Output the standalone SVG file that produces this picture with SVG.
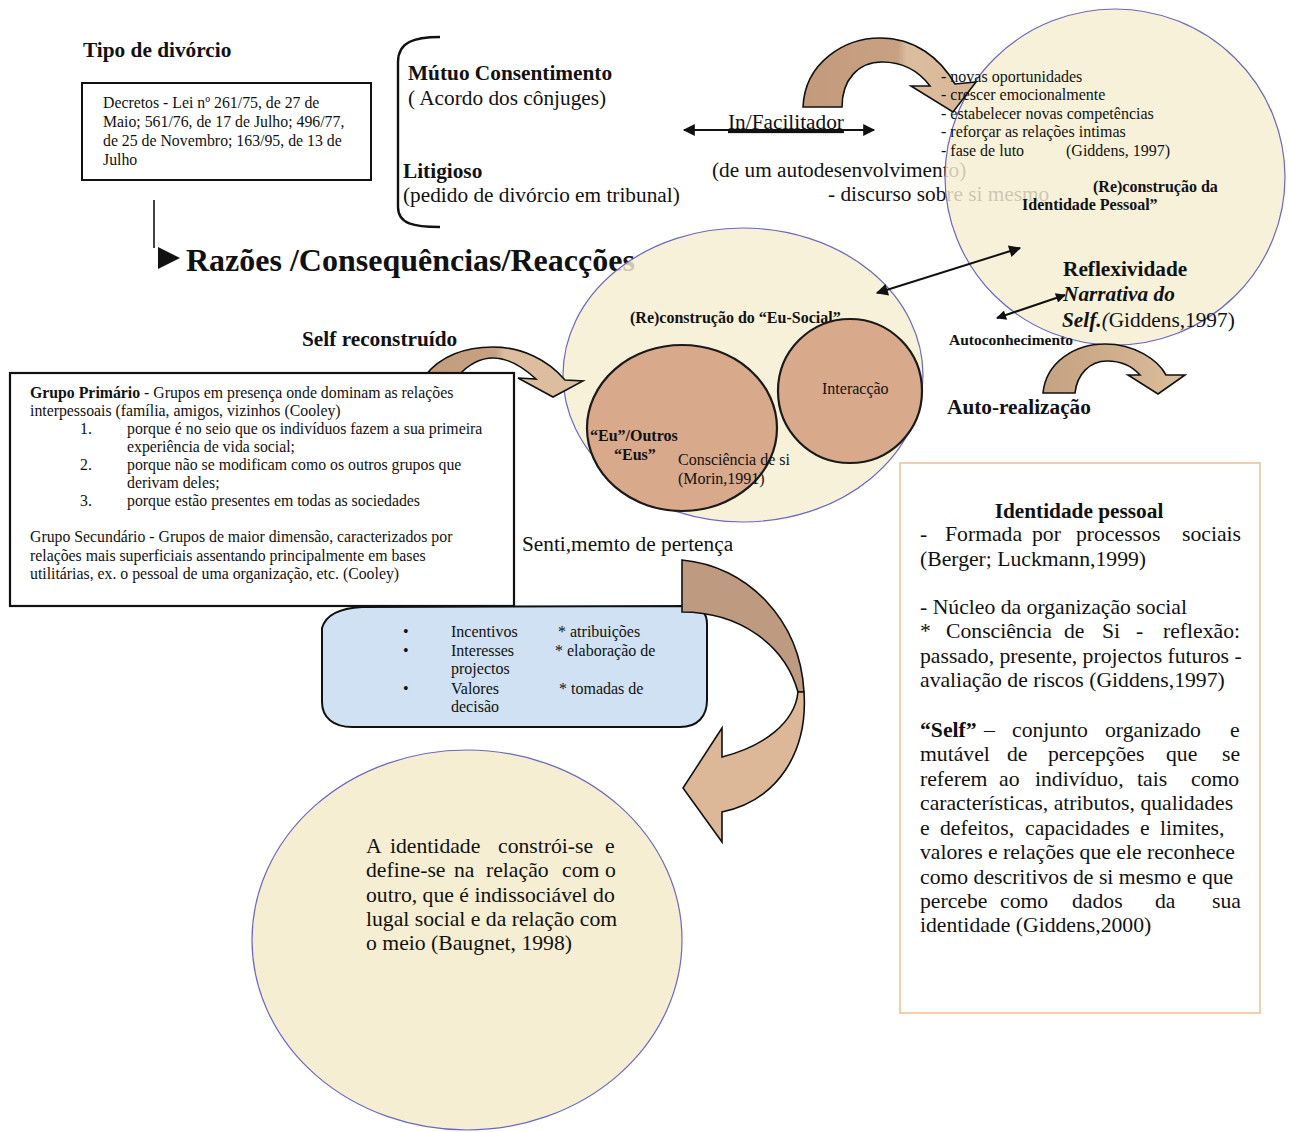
<svg xmlns="http://www.w3.org/2000/svg" width="1289" height="1132" viewBox="0 0 1289 1132">
<style>
text{font-family:"Liberation Serif","Times New Roman",serif;fill:#111}
.b{font-weight:bold}
.bg{fill:#f5eed2;stroke:#6a68bf;stroke-width:1.2}
.inner{fill:#d8a98a;stroke:#1a1a1a;stroke-width:2.2}
.arw{stroke:#111;stroke-width:1.6;stroke-linejoin:miter}
.line{stroke:#111;stroke-width:2.4;fill:none}
.s16{font-size:16px}
.s21{font-size:21.3px}
.s22{font-size:21.7px}
</style>
<defs>
<marker id="ah" viewBox="0 0 10 10" refX="9" refY="5" markerWidth="16" markerHeight="12" markerUnits="userSpaceOnUse" orient="auto-start-reverse">
<path d="M0,0 L10,5 L0,10 Z" fill="#111"/>
</marker>
<marker id="ahs" viewBox="0 0 10 10" refX="9" refY="5" markerWidth="13" markerHeight="10" markerUnits="userSpaceOnUse" orient="auto-start-reverse">
<path d="M0,0 L10,5 L0,10 Z" fill="#111"/>
</marker>
</defs>

<g id="title-tipo">
<text x="83" y="57" class="b s21">Tipo de divórcio</text>
</g>

<g id="decretos">
<rect x="82" y="83" width="289" height="97" fill="#fff" stroke="#111" stroke-width="2"/>
<text font-size="15.8" x="103" y="108">Decretos - Lei  nº 261/75, de 27 de</text>
<text font-size="15.8" x="103" y="127">Maio; 561/76, de 17 de Julho; 496/77,</text>
<text font-size="15.8" x="103" y="146">de 25 de Novembro; 163/95, de 13 de</text>
<text font-size="15.8" x="103" y="165">Julho</text>
</g>

<g id="razoes">
<text x="186" y="271" class="b" font-size="32">Razões /Consequências/Reacções</text>
<polygon points="158,247 180,258 158,269" fill="#111"/>
</g>

<g id="discurso-texts">
<text x="712" y="177" class="s21">(de um autodesenvolvimento)</text>
<text x="828" y="201" class="s21">- discurso sobre si mesmo</text>
</g>

<g id="circle-eu-social">
<ellipse class="bg" cx="743" cy="375" rx="180" ry="147" fill-opacity="0.82"/>
</g>
<g id="circle-identidade">
<ellipse class="bg" cx="1115" cy="177" rx="170" ry="168" fill-opacity="0.82"/>
</g>
<g id="circle-identidade-texto">
<ellipse class="bg" cx="467" cy="940" rx="215" ry="190"/>
<text class="s22" y="853"><tspan x="366">A</tspan><tspan x="390">identidade</tspan><tspan x="498">constrói-se</tspan><tspan x="605">e</tspan></text>
<text class="s22" y="877"><tspan x="366">define-se</tspan><tspan x="454">na</tspan><tspan x="486">relação</tspan><tspan x="562">com</tspan><tspan x="605">o</tspan></text>
<text class="s22" x="366" y="902">outro, que é indissociável do</text>
<text class="s22" x="366" y="926">lugal social e da relação com</text>
<text class="s22" x="366" y="950">o meio (Baugnet, 1998)</text>
</g>

<g id="tipos">
<path d="M440,37 C414,37 398,42 398,62 L398,207 C398,224 414,227 440,227" class="line" stroke-width="2.2"/>
<text x="408" y="80" class="b s21">Mútuo Consentimento</text>
<text x="408" y="105" class="s21">( Acordo dos cônjuges)</text>
<text x="403" y="178" class="b s21">Litigioso</text>
<text x="403" y="202" class="s21">(pedido de divórcio em tribunal)</text>
</g>

<g id="facilitador">
<text x="728" y="129" class="s21" text-decoration="underline">In/Facilitador</text>
</g>

<g id="arrow-top">
<defs>
<linearGradient id="gtop" x1="0" y1="0" x2="1" y2="0">
<stop offset="0" stop-color="#c39b7b"/><stop offset="0.55" stop-color="#c8a184"/><stop offset="0.6" stop-color="#dcbd9f"/><stop offset="1" stop-color="#d8b797"/>
</linearGradient>
</defs>
<path class="arw" fill="url(#gtop)" d="M803,107 C805,62 845,38 880,38 C915,38 940,58 955,84 L976,82 L953,112 L911,86 L930,86 C918,70 902,62 882,62 C858,62 842,80 842,107 Z"/>
</g>

<g id="lista-oportunidades">
<text class="s16" x="941" y="82">- novas oportunidades</text>
<text class="s16" x="941" y="100">- crescer emocionalmente</text>
<text class="s16" x="941" y="119">- estabelecer novas competências</text>
<text class="s16" x="941" y="137">- reforçar as relações intimas</text>
<text class="s16" x="941" y="156">- fase de luto</text>
<text class="s16" x="1066" y="156">(Giddens, 1997)</text>
<text class="b s16" x="1093" y="192">(Re)construção da</text>
<text class="b s16" x="1022" y="210">Identidade Pessoal”</text>
</g>

<g id="reflexividade">
<text x="1063" y="276" class="b s21">Reflexividade</text>
<text x="1063" y="301" class="b s21" font-style="italic">Narrativa do</text>
<text x="1062" y="327" class="s21"><tspan class="b" font-style="italic">Self.</tspan><tspan font-style="italic">(</tspan>Giddens,1997)</text>
<text x="949" y="345" class="b" font-size="15.5">Autoconhecimento</text>
</g>

<g id="auto-realizacao">
<defs>
<linearGradient id="gar" x1="0" y1="0" x2="1" y2="0">
<stop offset="0" stop-color="#c4a283"/><stop offset="0.5" stop-color="#cfae8c"/><stop offset="1" stop-color="#dcc09e"/>
</linearGradient>
</defs>
<path class="arw" fill="url(#gar)" d="M1043,393 C1046,362 1075,344 1105,344 C1135,344 1158,360 1166,375 L1185,375 L1158,394 L1128,375 L1140,375 C1132,366 1120,361 1107,361 C1090,361 1077,374 1075,393 Z"/>
<text x="947" y="414" class="b s21">Auto-realização</text>
</g>

<g id="eu-social">
<text x="630" y="323" class="b s16">(Re)construção do “Eu-Social”</text>
<ellipse class="inner" cx="682" cy="428" rx="95" ry="83"/>
<circle class="inner" cx="850" cy="391" r="72"/>
<text x="822" y="394" class="s16">Interacção</text>
<text x="590" y="441" class="b s16">“Eu”/Outros</text>
<text x="614" y="460" class="b s16">“Eus”</text>
<text x="678" y="465" class="s16">Consciência de si</text>
<text x="678" y="484" class="s16">(Morin,1991)</text>
</g>

<g id="self-reconstruido">
<text x="302" y="346" class="b s21">Self reconstruído</text>
<defs>
<linearGradient id="gself" x1="0" y1="0" x2="1" y2="0">
<stop offset="0" stop-color="#c19d7e"/><stop offset="0.45" stop-color="#c6a283"/><stop offset="0.5" stop-color="#dcbd9e"/><stop offset="1" stop-color="#dcbd9e"/>
</linearGradient>
</defs>
<path class="arw" fill="url(#gself)" d="M425,376 C440,356 465,347 493,347 C522,347 548,360 565,380 L583,381 L553,397 L518,378 L536,379 C522,366 507,358 493,358 C480,358 468,365 458,376 Z"/>
</g>

<g id="grupos">
<rect x="10" y="373" width="504" height="233" fill="#fff" stroke="#111" stroke-width="2.2"/>
<text x="30" y="398" font-size="15.8"><tspan class="b">Grupo Primário</tspan> - Grupos em presença onde dominam as relações</text>
<text x="30" y="416" font-size="15.8">interpessoais (família, amigos, vizinhos (Cooley)</text>
<text x="80" y="434" font-size="15.8">1.</text>
<text x="127" y="434" font-size="15.8">porque é no seio que os indivíduos fazem a sua primeira</text>
<text x="127" y="452" font-size="15.8">experiência de vida social;</text>
<text x="80" y="470" font-size="15.8">2.</text>
<text x="127" y="470" font-size="15.8">porque não se modificam como os outros grupos que</text>
<text x="127" y="488" font-size="15.8">derivam deles;</text>
<text x="80" y="506" font-size="15.8">3.</text>
<text x="127" y="506" font-size="15.8">porque estão presentes em todas as sociedades</text>
<text x="30" y="542" font-size="15.8">Grupo Secundário - Grupos de maior dimensão, caracterizados por</text>
<text x="30" y="561" font-size="15.8">relações mais superficiais assentando principalmente em bases</text>
<text x="30" y="579" font-size="15.8">utilitárias, ex. o pessoal de uma organização, etc. (Cooley)</text>
</g>

<g id="pertenca">
<text x="522" y="551" font-size="21.3">Senti,memto de pertença</text>
</g>

<g id="incentivos">
<path d="M322,628 C326,614 342,608 362,607 L690,606 C702,607 707,614 707,624 L707,700 C707,716 698,727 680,727 L352,727 C334,727 322,718 322,702 Z" fill="#cfe1f2" stroke="#111" stroke-width="2"/>
<text class="s16" x="403" y="637">•</text>
<text class="s16" x="451" y="637">Incentivos</text>
<text class="s16" x="558" y="637">* atribuições</text>
<text class="s16" x="403" y="656">•</text>
<text class="s16" x="451" y="656">Interesses</text>
<text class="s16" x="555" y="656">* elaboração de</text>
<text class="s16" x="451" y="674">projectos</text>
<text class="s16" x="403" y="694">•</text>
<text class="s16" x="451" y="694">Valores</text>
<text class="s16" x="559" y="694">*  tomadas de</text>
<text class="s16" x="451" y="712">decisão</text>
</g>

<g id="arrow-pertenca">
<path class="arw" fill="#bd9a80" d="M682,560 C748,566 800,620 804,692 L798,692 C785,645 740,612 682,612 Z"/>
<path class="arw" fill="#dcb898" d="M804,692 C808,752 778,800 722,812 L722,842 L683,788 L722,728 L722,757 C765,746 795,722 798,692 Z"/>
</g>

<g id="identidade-pessoal">
<rect x="900" y="463" width="360" height="550" fill="#fff" stroke="#f1c9a4" stroke-width="1.8"/>
<text x="1079" y="518" text-anchor="middle" class="b s21">Identidade pessoal</text>
<text class="s22" y="541"><tspan x="920">-</tspan><tspan x="945">Formada</tspan><tspan x="1032">por</tspan><tspan x="1076">processos</tspan><tspan x="1182">sociais</tspan></text>
<text class="s22" x="920" y="566">(Berger; Luckmann,1999)</text>
<text class="s22" x="920" y="614">- Núcleo da organização social</text>
<text class="s22" y="638"><tspan x="920">*</tspan><tspan x="946">Consciência</tspan><tspan x="1064">de</tspan><tspan x="1102">Si</tspan><tspan x="1136">-</tspan><tspan x="1163">reflexão:</tspan></text>
<text class="s22" x="920" y="663">passado, presente, projectos futuros -</text>
<text class="s22" x="920" y="687">avaliação de riscos (Giddens,1997)</text>
<text class="s22" y="737"><tspan x="920" class="b">“Self”</tspan><tspan x="984">–</tspan><tspan x="1012">conjunto</tspan><tspan x="1105">organizado</tspan><tspan x="1230">e</tspan></text>
<text class="s22" y="761"><tspan x="920">mutável</tspan><tspan x="1007">de</tspan><tspan x="1048">percepções</tspan><tspan x="1166">que</tspan><tspan x="1222">se</tspan></text>
<text class="s22" y="786"><tspan x="920">referem</tspan><tspan x="999">ao</tspan><tspan x="1035">indivíduo,</tspan><tspan x="1137">tais</tspan><tspan x="1191">como</tspan></text>
<text class="s22" x="920" y="810">características, atributos, qualidades</text>
<text class="s22" y="835"><tspan x="920">e</tspan><tspan x="940">defeitos,</tspan><tspan x="1025">capacidades</tspan><tspan x="1140">e</tspan><tspan x="1160">limites,</tspan></text>
<text class="s22" x="920" y="859">valores e relações que ele reconhece</text>
<text class="s22" x="920" y="884">como descritivos de si mesmo e que</text>
<text class="s22" y="908"><tspan x="920">percebe</tspan><tspan x="1000">como</tspan><tspan x="1072">dados</tspan><tspan x="1155">da</tspan><tspan x="1212">sua</tspan></text>
<text class="s22" x="920" y="932">identidade (Giddens,2000)</text>
</g>

<g id="connectors">
<line x1="154" y1="200" x2="154" y2="248" stroke="#111" stroke-width="1.6"/>
<line x1="684" y1="130" x2="874" y2="130" stroke="#111" stroke-width="2" marker-start="url(#ah)" marker-end="url(#ah)"/>
<line x1="877" y1="293" x2="1020" y2="248" stroke="#111" stroke-width="2" marker-start="url(#ah)" marker-end="url(#ah)"/>
<line x1="997" y1="318" x2="1065" y2="295" stroke="#111" stroke-width="2" marker-start="url(#ahs)" marker-end="url(#ahs)"/>
</g>
</svg>
